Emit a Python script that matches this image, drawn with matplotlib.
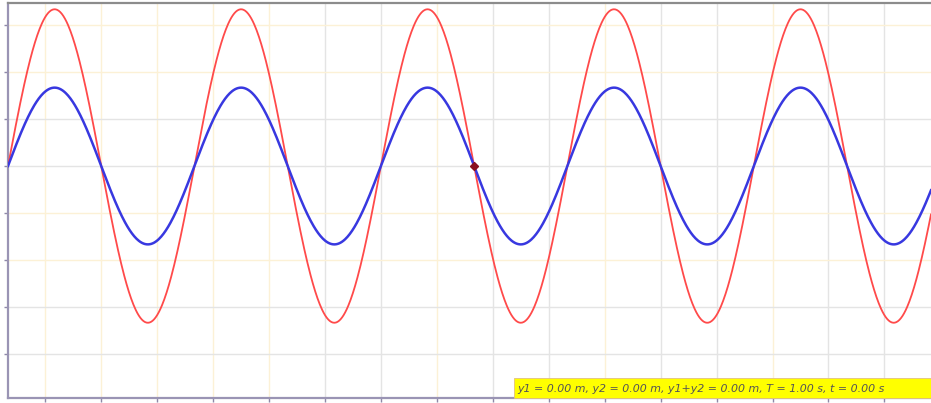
import numpy as np
import matplotlib.pyplot as plt
from matplotlib.patches import Rectangle

# 波参数
wavelength = 1.0          # m
amp_y1 = 0.5              # 蓝线 y1 振幅 (m)
amp_sum = 1.0             # 红线 y1+y2 振幅 (m)
x_max = 4.95              # 可见范围 (m)
marker_pos = (2.5, 0.0)   # 深红色小标记

# 网格线位置与颜色
vgrid_x = [0.2, 0.5, 0.8, 1.1, 1.4, 1.7, 2.0, 2.3, 2.6, 2.9, 3.2, 3.5, 3.8, 4.1, 4.4, 4.7]
vgrid_kind = ['c', 'c', 'c', 'c', 'c', 'g', 'g', 'c', 'g', 'g', 'c', 'g', 'g', 'c', 'g', 'g']
hgrid_y = [0.9, 0.6, 0.3, 0.0, -0.3, -0.6, -0.9, -1.2]
hgrid_kind = ['c', 'c', 'g', 'g', 'c', 'c', 'g', 'g']

info = 'y1 = 0.00 m, y2 = 0.00 m, y1+y2 = 0.00 m, T = 1.00 s, t = 0.00 s'

W, H = 931, 403
fig = plt.figure(figsize=(W / 100, H / 100), dpi=100)
ax = fig.add_axes([8 / W, 5 / H, (W - 8) / W, 395 / H])

grid_col = {'c': '#fcf1d6', 'g': '#e4e4e4'}
for x, k in zip(vgrid_x, vgrid_kind):
    ax.axvline(x, color=grid_col[k], lw=1.0, zorder=0)
for y, k in zip(hgrid_y, hgrid_kind):
    ax.axhline(y, color=grid_col[k], lw=1.0, zorder=0)

x = np.linspace(0, x_max, 1200)
ax.plot(x, amp_sum * np.sin(2 * np.pi * x / wavelength), color='#ff4a4a', lw=1.3, zorder=3)
ax.plot(x, amp_y1 * np.sin(2 * np.pi * x / wavelength), color='#3838e0', lw=1.8, zorder=4)
ax.plot(*marker_pos, marker='D', ms=4, color='#8a1020', zorder=5)

ax.set_xlim(0, x_max)
ax.set_ylim(-1.48, 1.04)
ax.set_xticks(vgrid_x)
ax.set_yticks(hgrid_y)
ax.tick_params(length=3, width=1, color='#8e88a8', labelbottom=False, labelleft=False)
ax.spines['right'].set_visible(False)
ax.spines['top'].set_color('#8c8c8c')
ax.spines['top'].set_linewidth(1.6)
for s in ('left', 'bottom'):
    ax.spines[s].set_color('#9a94b4')
    ax.spines[s].set_linewidth(1.6)

# 黄色信息框
fig.patches.append(Rectangle((514 / W, 5 / H), (W - 514) / W, 20 / H,
                             transform=fig.transFigure, facecolor='#ffff00',
                             edgecolor='#e0c080', lw=0.6, zorder=6))
fig.text(517 / W, 14 / H, info, fontsize=7.9, style='italic', color='#555555',
         va='center', ha='left', zorder=7)

fig.savefig('out.png', dpi=100)
